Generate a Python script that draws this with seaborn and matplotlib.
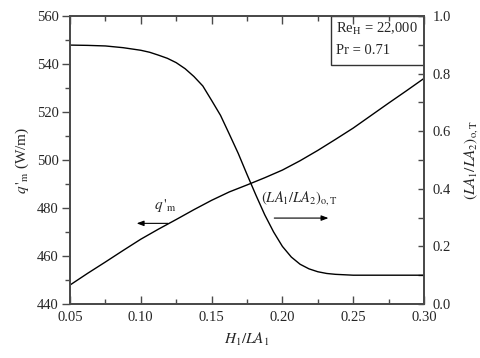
import matplotlib
matplotlib.use("Agg")
import matplotlib.pyplot as plt
import seaborn as sns
import pandas as pd
from matplotlib.patches import Rectangle
from matplotlib.ticker import MultipleLocator

# ---- data ----
x_q = [0.05, 0.0625, 0.075, 0.0875, 0.10, 0.1125, 0.125, 0.1375, 0.15, 0.1625,
       0.175, 0.1875, 0.20, 0.2125, 0.225, 0.2375, 0.25, 0.2625, 0.275, 0.2875, 0.30]
q_m = [447.9, 452.8, 457.5, 462.3, 467.0, 471.2, 475.2, 479.3, 483.2, 486.7,
       489.6, 492.6, 495.8, 499.7, 504.0, 508.6, 513.3, 518.5, 523.7, 528.8, 534.0]

x_la = [0.05, 0.0625, 0.075, 0.0875, 0.10, 0.1063, 0.1125, 0.1188, 0.125, 0.1313,
        0.1375, 0.1438, 0.15, 0.1563, 0.1625, 0.1688, 0.175, 0.1813, 0.1875,
        0.1938, 0.20, 0.2063, 0.2125, 0.2188, 0.225, 0.2313, 0.2375, 0.25, 0.275, 0.30]
la_ratio = [0.899, 0.898, 0.896, 0.890, 0.881, 0.874, 0.864, 0.853, 0.838, 0.817,
            0.790, 0.757, 0.707, 0.655, 0.590, 0.523, 0.450, 0.378, 0.310,
            0.250, 0.200, 0.163, 0.138, 0.122, 0.112, 0.106, 0.103, 0.100, 0.100, 0.100]

xticks = [0.05, 0.10, 0.15, 0.20, 0.25, 0.30]
yticks_left = [440, 460, 480, 500, 520, 540, 560]
yticks_right = [0.0, 0.2, 0.4, 0.6, 0.8, 1.0]

df_q = pd.DataFrame({"x": x_q, "q": q_m})
df_la = pd.DataFrame({"x": x_la, "la": la_ratio})

sns.set_style("white")
plt.rcParams["font.family"] = ["Liberation Serif", "DejaVu Serif"]
plt.rcParams["mathtext.fontset"] = "stix"
plt.rcParams["font.size"] = 10.5

fig = plt.figure(figsize=(4.8, 3.58), dpi=100)
ax = fig.add_axes([70/480, 1-304/358, 354/480, 288/358])
ax2 = ax.twinx()

sns.lineplot(data=df_q, x="x", y="q", ax=ax, color="black", linewidth=1.0, sort=False)
sns.lineplot(data=df_la, x="x", y="la", ax=ax2, color="black", linewidth=1.0, sort=False)

ax.set_xlim(0.05, 0.30)
ax.set_ylim(440, 560)
ax2.set_ylim(0.0, 1.0)

ax.set_xticks(xticks)
ax.set_xticklabels([f"{v:.2f}" for v in xticks])
ax.set_yticks(yticks_left)
ax.set_yticklabels([str(v) for v in yticks_left])
ax2.set_yticks(yticks_right)
ax2.set_yticklabels([f"{v:.1f}" for v in yticks_right])
ax.xaxis.set_minor_locator(MultipleLocator(0.025))
ax.yaxis.set_minor_locator(MultipleLocator(10))
ax2.yaxis.set_minor_locator(MultipleLocator(0.1))

frame_col = "#4a4a4a"
for a in (ax, ax2):
    for s in a.spines.values():
        s.set_color(frame_col)
        s.set_linewidth(1.3)

ax.tick_params(axis="x", which="both", direction="in", top=True, bottom=True,
               color=frame_col, labelsize=10.5, pad=5)
ax.tick_params(axis="x", which="major", length=6, width=1)
ax.tick_params(axis="x", which="minor", length=3.5, width=1)
ax.tick_params(axis="y", which="both", direction="out", left=True, right=False,
               color=frame_col, labelsize=10.5, pad=2)
ax.tick_params(axis="y", which="major", length=6, width=1)
ax.tick_params(axis="y", which="minor", length=3.5, width=1)
ax2.tick_params(axis="y", which="both", direction="in", right=True,
                color=frame_col, labelsize=10.5, pad=6)
ax2.tick_params(axis="y", which="major", length=4, width=1)
ax2.tick_params(axis="y", which="minor", length=4, width=1)

ax.set_xlabel(r"$H_1/LA_1$", fontsize=11, labelpad=5)
ax.set_ylabel(r"$q\,'_{\rm m}$ (W/m)", fontsize=11, labelpad=4)
ax2.set_ylabel(r"$(LA_1/LA_2)_{\rm o,T}$", fontsize=11, labelpad=8, rotation=90)

# annotation box
ax.add_patch(Rectangle((0.737, 0.83), 0.263, 0.17, transform=ax.transAxes,
                       fill=False, edgecolor="#333333", linewidth=1.0, zorder=5))
ax.text(0.752, 0.955, r"Re$_{\rm H}$ = 22,000", transform=ax.transAxes,
        fontsize=10.5, va="center", ha="left")
ax.text(0.752, 0.88, "Pr = 0.71", transform=ax.transAxes,
        fontsize=10.5, va="center", ha="left")

# arrows and curve labels
arrow_kw = dict(arrowstyle="-|>,head_length=0.4,head_width=0.15", color="black", lw=0.8)
ax.annotate("", xy=(0.0951, 473.6), xytext=(0.1211, 473.6), arrowprops=arrow_kw)
ax.text(0.1176, 481.0, r"$q\,'_{\rm m}$", fontsize=11, ha="center", va="center")
ax.annotate("", xy=(0.2345, 475.8), xytext=(0.1923, 475.8), arrowprops=arrow_kw)
ax.text(0.212, 484.0, r"$(LA_1/LA_2)_{\rm o,T}$", fontsize=10.5, ha="center", va="center")

fig.savefig("out.png", dpi=100)
